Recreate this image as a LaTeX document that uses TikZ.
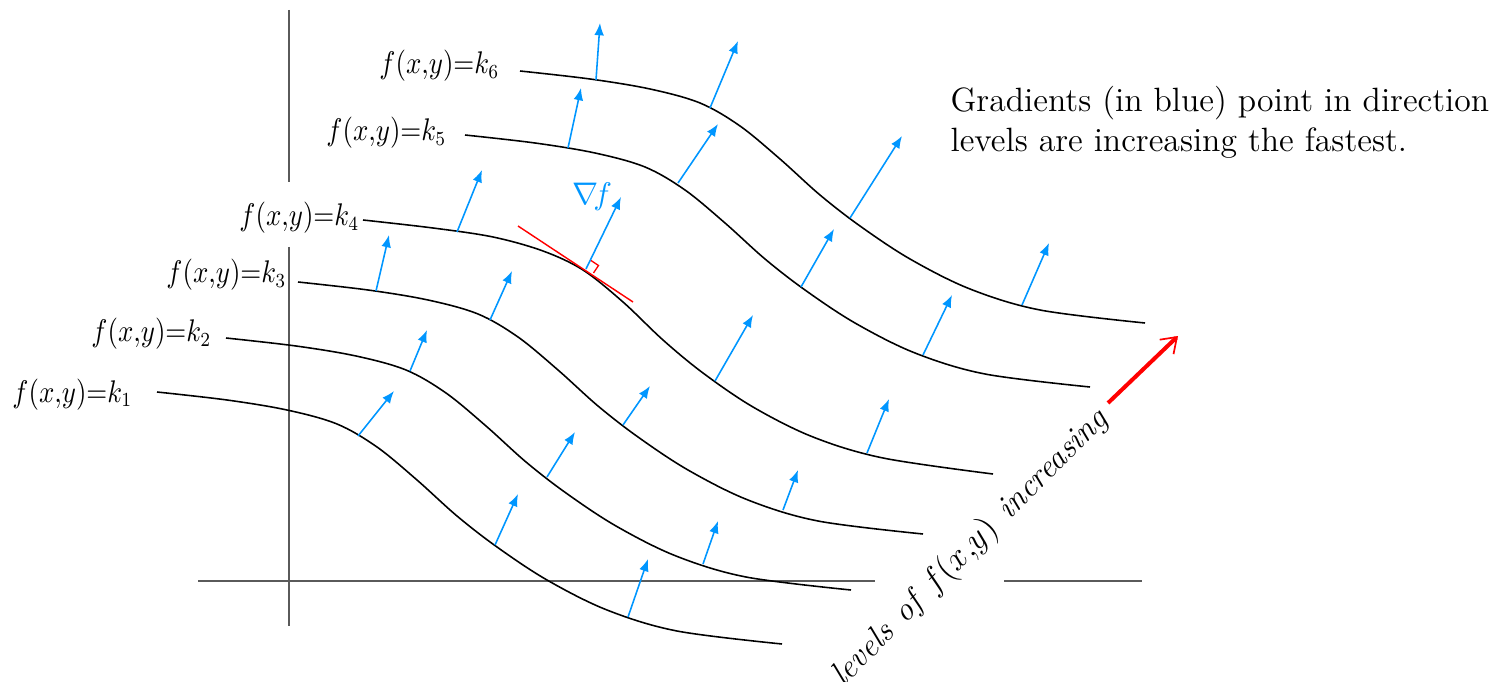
\documentclass[tikz,border=0pt]{standalone}
\usetikzlibrary{arrows.meta}
\definecolor{gradblue}{RGB}{0,150,255}
\definecolor{axisgray}{RGB}{90,90,90}
\newcommand\levelcurve[2]{\draw[level,shift={(#1,#2)}] plot[smooth,tension=0.55] coordinates {(0,0) (70,8) (130,18) (180,32) (220,55) (260,88) (300,124) (340,155) (390,188) (450,218) (520,239) (625,252)};}
\newcommand\flab[1]{\scalebox{0.86}[1]{$f(x{,}y)\mathord{=}k_{#1}$}}
\begin{document}
\begin{tikzpicture}[x=0.35pt,y=-0.35pt,
  level/.style={black,line width=0.55pt},
  axisline/.style={axisgray,line width=0.55pt},
  grad/.style={gradblue,line width=0.55pt,-{Latex[length=4.3pt,width=3.4pt]}},
  lab/.style={font=\fontsize{10.5}{12}\selectfont,anchor=base east,inner sep=0pt},
  note/.style={font=\fontsize{11.8}{14}\selectfont,anchor=base west,inner sep=0pt}]
\useasboundingbox (0,0) rectangle (1496,682);
% axes
\draw[axisline] (289,10) -- (289,182);
\draw[axisline] (289,247) -- (289,626);
\draw[axisline] (198,581) -- (875,581);
\draw[axisline] (1004,581) -- (1142,581);
% level curves
\levelcurve{157}{392}
\levelcurve{226}{338}
\levelcurve{298}{282}
\draw[level,shift={(363,220)}] plot[smooth,tension=0.55] coordinates {(0,0) (70,8) (130,17) (180,31) (220,50) (260,82) (300,120) (340,153) (390,187) (450,217) (520,238) (630,254)};
\levelcurve{465}{135}
\levelcurve{520}{71}
% labels
\node[lab] (k6) at (500,74) {\flab{6}};
\node[lab] (k5) at (447,141) {\flab{5}};
\node[lab] (k4) at (360,226) {\flab{4}};
\node[lab] (k3) at (287,283) {\flab{3}};
\node[lab] (k2) at (212,342) {\flab{2}};
\node[lab] (k1) at (133,402) {\flab{1}};
% gradients
\draw[grad] (596,80) -- (600,23);
\draw[grad] (710,108) -- (738,41);
\draw[grad] (850,218) -- (902,136);
\draw[grad] (1022,305) -- (1049,243);
\draw[grad] (568,148) -- (581,88);
\draw[grad] (678,183) -- (718,124);
\draw[grad] (801,287) -- (834,229);
\draw[grad] (923,355) -- (952,295);
\draw[grad] (457,232) -- (482,170);
\draw[grad] (586,269) -- (621,197);
\draw[grad] (715,381) -- (753,315);
\draw[grad] (867,453) -- (889,399);
\draw[grad] (376,291) -- (389,235);
\draw[grad] (490,320) -- (512,271);
\draw[grad] (623,425) -- (650,386);
\draw[grad] (783,510) -- (798,470);
\draw[grad] (410,371) -- (427,330);
\draw[grad] (547,477) -- (575,432);
\draw[grad] (703,564) -- (718,521);
\draw[grad] (358,436) -- (394,391);
\draw[grad] (495,545) -- (518,494);
\draw[grad] (628,617) -- (648,559);
% tangent and right angle
\draw[red,line width=0.5pt] (518,226) -- (633,302);
\draw[red,line width=0.45pt] (593.5,273) -- (598.5,265.5) -- (591,260.5);
\node[gradblue,font=\fontsize{10.5}{12}\selectfont,anchor=base west,inner sep=0pt] (nabla) at (572,205) {$\nabla\!f$};
% note
\node[note] (note1) at (950,112) {Gradients (in blue) point in direction};
\node[note] (note2) at (950,152) {levels are increasing the fastest.};
% increasing direction
\node[font=\fontsize{11.5}{14}\selectfont\itshape,rotate=45,inner sep=0pt] (inc) at (970,548) {levels\hspace{5pt}of\hspace{5pt}$f(x{,}y)$\hspace{5pt}increasing};
\draw[red,line width=1.4pt,-{Straight Barb[length=5pt,width=7pt,line width=0.6pt]}] (1108,403) -- (1178,336);
\end{tikzpicture}
\end{document}
